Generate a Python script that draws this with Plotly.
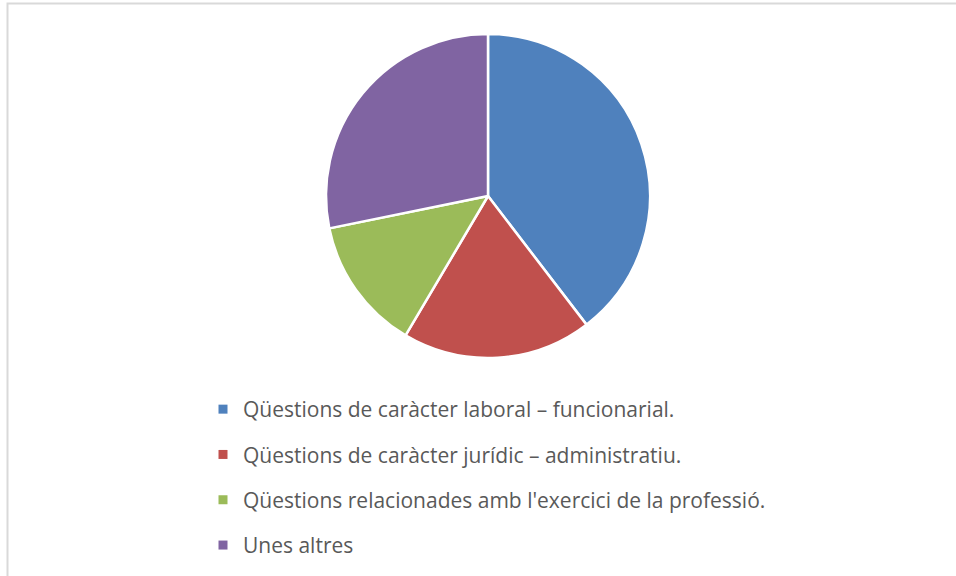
import plotly.graph_objects as go

categories = [
    "Qüestions de caràcter laboral – funcionarial.",
    "Qüestions de caràcter jurídic – administratiu.",
    "Qüestions relacionades amb l'exercici de la professió.",
    "Unes altres",
]
values = [39.6, 18.9, 13.3, 28.2]
colors = ["#4F81BD", "#C0504D", "#9BBB59", "#8064A2"]

W, H = 956, 576

fig = go.Figure()
fig.add_trace(go.Pie(
    labels=categories,
    values=values,
    sort=False,
    direction="clockwise",
    rotation=0,
    textinfo="none",
    hoverinfo="label+percent",
    showlegend=False,
    marker=dict(colors=colors, line=dict(color="white", width=2.5)),
    domain=dict(x=[326 / W, 650 / W], y=[1 - 358 / H, 1 - 34 / H]),
))

# legend entries (one group each so the spacing can be set)
for name, col in zip(categories, colors):
    fig.add_trace(go.Scatter(
        x=[None], y=[None], mode="markers", name=name,
        legendgroup=name, hoverinfo="skip",
        marker=dict(symbol="square", size=9, color=col),
    ))

fig.update_layout(
    width=W, height=H,
    margin=dict(l=0, r=0, t=0, b=0),
    paper_bgcolor="white",
    plot_bgcolor="white",
    font=dict(family="Open Sans, Calibri, sans-serif", size=21, color="#595959"),
    xaxis=dict(visible=False),
    yaxis=dict(visible=False),
    legend=dict(
        orientation="v",
        x=203 / W, xanchor="left",
        y=1 - 389 / H, yanchor="top",
        traceorder="grouped",
        tracegroupgap=15,
        font=dict(size=21, color="#595959"),
        itemclick=False,
        itemdoubleclick=False,
    ),
    shapes=[dict(
        type="rect", xref="paper", yref="paper",
        x0=7.5 / W, x1=1.05, y0=-0.05, y1=1 - 3.5 / H,
        line=dict(color="#D9D9D9", width=2),
    )],
)

fig.write_html(
    "out.html",
    config={"displayModeBar": False},
    post_script="document.body.style.margin='0px';",
)
